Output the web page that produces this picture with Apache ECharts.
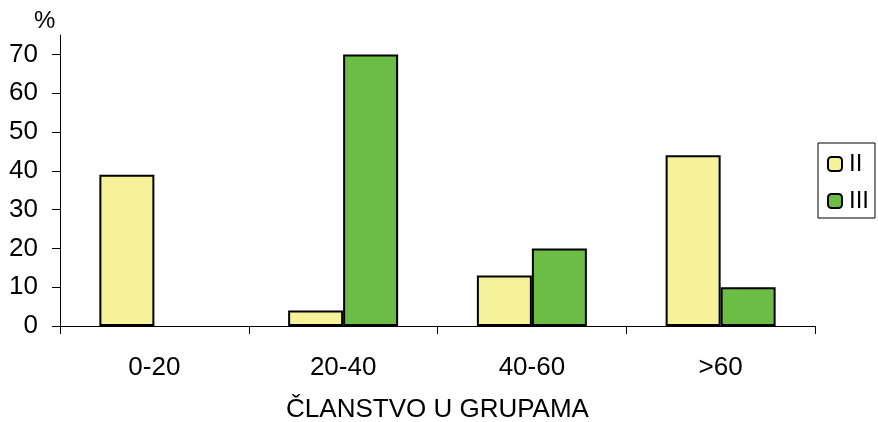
<!DOCTYPE html>
<html>
<head>
<meta charset="utf-8">
<script src="https://cdn.jsdelivr.net/npm/echarts@6/dist/echarts.min.js"></script>
<style>
html,body{margin:0;padding:0;background:#fff;}
#c{width:878px;height:422px;}
</style>
</head>
<body>
<div id="c"></div>
<script>
const categories = ['0-20', '20-40', '40-60', '>60'];
const seriesII = [39, 4, 13, 44];
const seriesIII = [0, 70, 20, 10];
const yTicks = [0, 10, 20, 30, 40, 50, 60, 70];
const seriesNames = ['II', 'III'];

const FONT = 'Liberation Sans, Arial, sans-serif';
const chart = echarts.init(document.getElementById('c'), null, {renderer: 'canvas'});
const barStyle = (color) => ({color: color, borderColor: '#000', borderWidth: 2});
const toData = (arr) => arr.map(v => v === 0 ? {value: v, itemStyle: {borderWidth: 0}} : v);
chart.setOption({
  animation: false,
  backgroundColor: '#fff',
  grid: {left: 60, right: 63, top: 35, bottom: 96, containLabel: false, outerBoundsMode: 'none'},
  graphic: [{
    type: 'text', left: 34, top: 9,
    style: {text: '%', font: '24px ' + FONT, fill: '#000'}
  }],
  legend: {
    orient: 'vertical', left: 818, top: 143,
    padding: [9, 6, 5, 9], itemGap: 13, itemWidth: 14, itemHeight: 14,
    borderColor: '#000', borderWidth: 1,
    textStyle: {fontFamily: FONT, fontSize: 24, color: '#000', padding: [0, 0, 0, 2]},
    data: seriesNames
  },
  xAxis: {
    type: 'category', data: categories,
    axisLine: {lineStyle: {color: '#000', width: 1}},
    axisTick: {show: true, length: 8, lineStyle: {color: '#000'}},
    axisLabel: {fontFamily: FONT, fontSize: 26, color: '#000', margin: 29},
    name: 'ČLANSTVO U GRUPAMA', nameLocation: 'middle', nameGap: 71,
    nameTextStyle: {fontFamily: FONT, fontSize: 26, color: '#000', verticalAlign: 'top'}
  },
  yAxis: {
    type: 'value', min: 0, max: 75, interval: 10,
    axisLine: {show: true, lineStyle: {color: '#000', width: 1}},
    axisTick: {show: true, length: 8, lineStyle: {color: '#000'}, customValues: yTicks},
    axisLabel: {fontFamily: FONT, fontSize: 26, color: '#000', margin: 22, customValues: yTicks},
    splitLine: {show: false}
  },
  series: [
    {name: seriesNames[0], type: 'bar', data: toData(seriesII), barWidth: 55, barGap: '0%', itemStyle: barStyle('#F6F29A')},
    {name: seriesNames[1], type: 'bar', data: toData(seriesIII), barWidth: 55, barGap: '0%', itemStyle: barStyle('#6BBD46')}
  ]
});
</script>
</body>
</html>
